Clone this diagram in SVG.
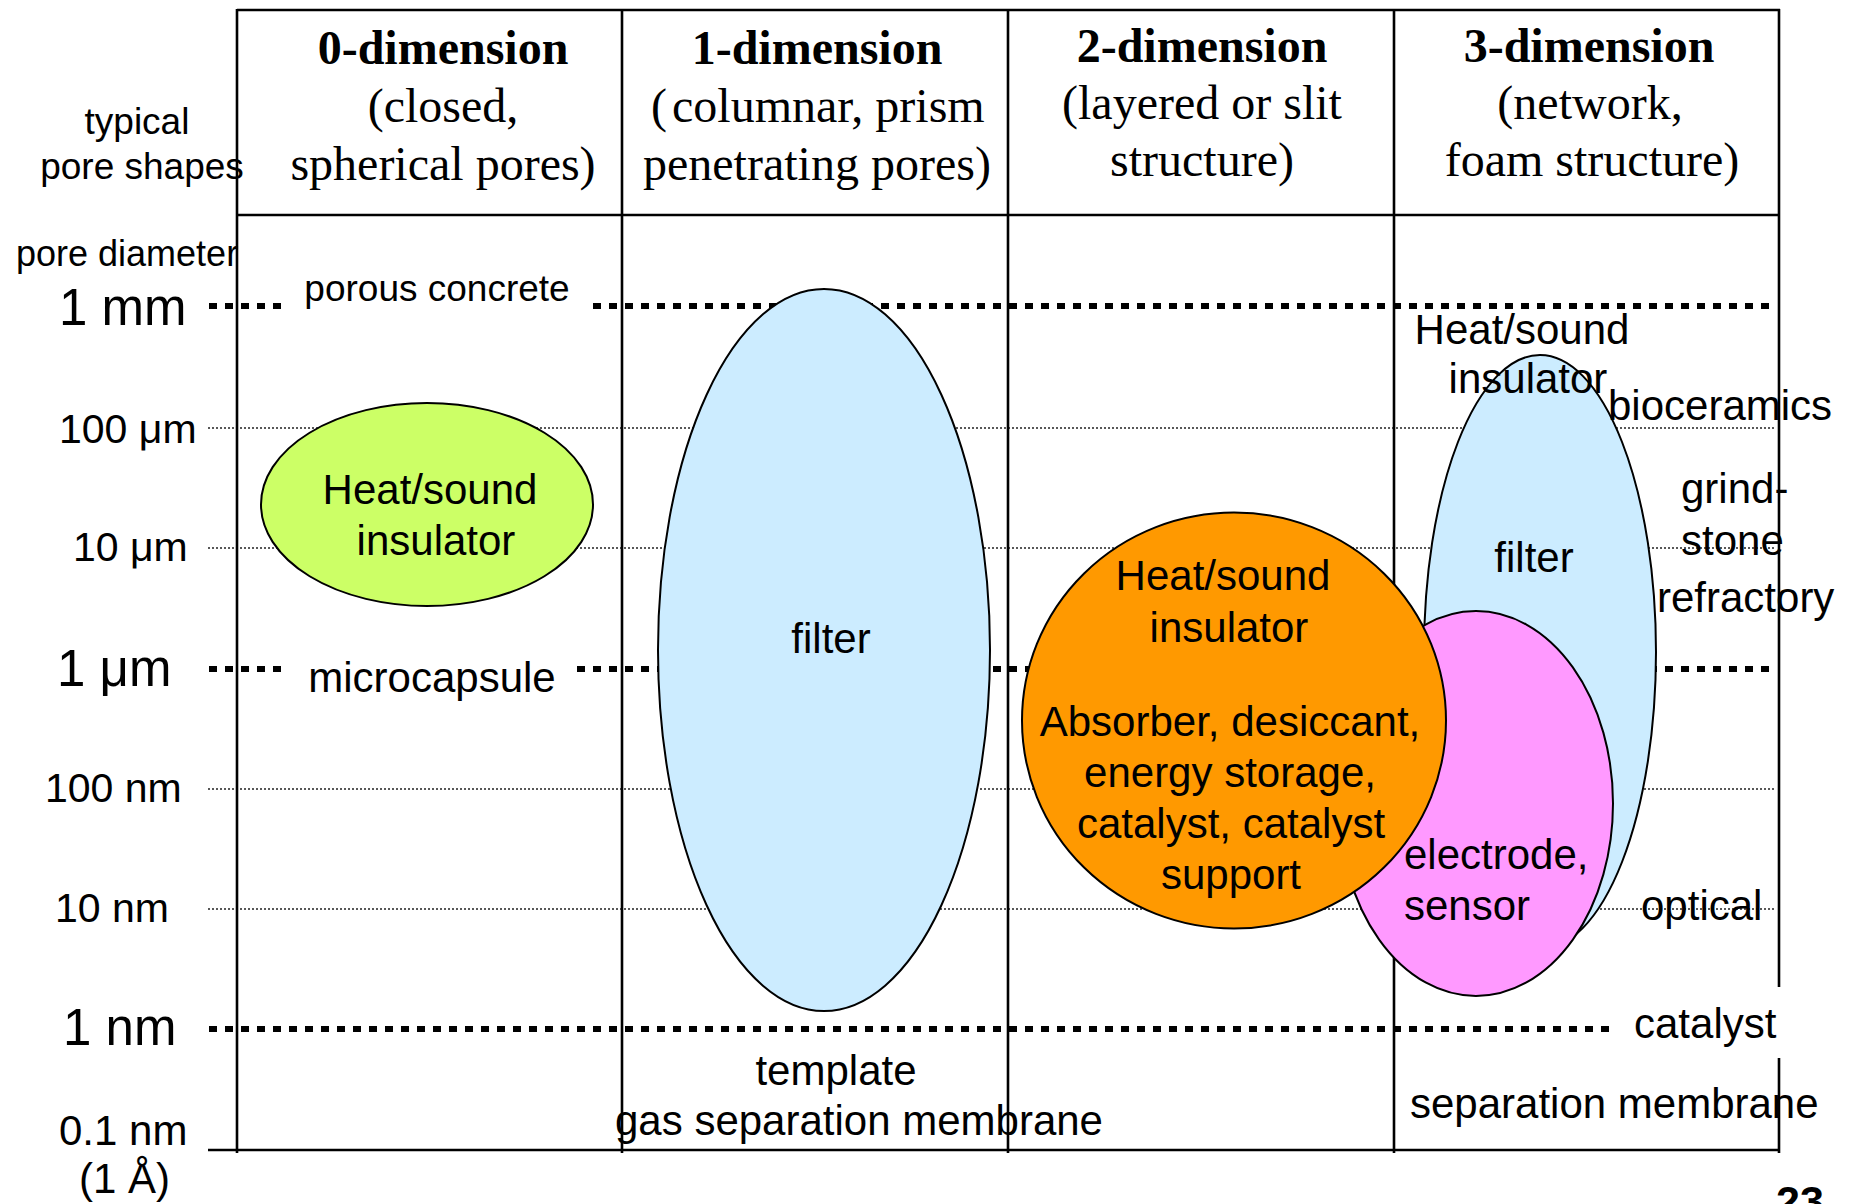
<svg xmlns="http://www.w3.org/2000/svg" width="1852" height="1204" viewBox="0 0 1852 1204">
<style>
.s{font-family:"Liberation Sans",Arial,sans-serif;fill:#000}
.h{font-family:"Liberation Serif","Times New Roman",serif;fill:#000;font-size:48px;text-anchor:middle}
.hs{text-anchor:start}
.hb{font-weight:bold}
.tl{stroke:#000;stroke-width:2.6;fill:none}
.thin{stroke:#222;stroke-width:1.3;stroke-dasharray:2 2;fill:none}
.thick{stroke:#000;stroke-width:6;stroke-dasharray:8 8;fill:none}
.el{stroke:#000;stroke-width:2}
.m{text-anchor:middle}
</style>
<rect width="1852" height="1204" fill="#fff"/>
<g id="connectors">
<g id="gridlines">
<line class="thin" x1="208" y1="428" x2="1775" y2="428"/>
<line class="thin" x1="208" y1="548" x2="1775" y2="548"/>
<line class="thin" x1="208" y1="789" x2="1775" y2="789"/>
<line class="thin" x1="208" y1="909" x2="1775" y2="909"/>
<line class="thick" x1="209" y1="306" x2="281" y2="306"/>
<line class="thick" x1="593" y1="306" x2="1770" y2="306"/>
<line class="thick" x1="209" y1="669" x2="281" y2="669"/>
<line class="thick" x1="577" y1="669" x2="1770" y2="669"/>
<line class="thick" x1="209" y1="1029" x2="1612" y2="1029"/>
</g>
<g id="table">
<line class="tl" x1="237" y1="10" x2="1780" y2="10"/>
<line class="tl" x1="237" y1="215" x2="1780" y2="215"/>
<line class="tl" x1="208" y1="1150" x2="1779" y2="1150"/>
<line class="tl" x1="237" y1="9" x2="237" y2="1153"/>
<line class="tl" x1="622" y1="9" x2="622" y2="1153"/>
<line class="tl" x1="1008" y1="9" x2="1008" y2="1153"/>
<line class="tl" x1="1394" y1="9" x2="1394" y2="1153"/>
<line class="tl" x1="1779" y1="9" x2="1779" y2="1153"/>
</g>
</g>
<g id="axis-labels" class="s">
<text x="137" y="134" font-size="37" class="m">typical</text>
<text x="142" y="179" font-size="37" class="m">pore shapes</text>
<text x="16" y="266" font-size="36">pore diameter</text>
<text x="59" y="325" font-size="51">1 mm</text>
<text x="59" y="443" font-size="41">100 μm</text>
<text x="73" y="561" font-size="41">10 μm</text>
<text x="57" y="686" font-size="51">1 μm</text>
<text x="45" y="802" font-size="41">100 nm</text>
<text x="55" y="922" font-size="41">10 nm</text>
<text x="63" y="1045" font-size="51">1 nm</text>
<text x="59" y="1145" font-size="42">0.1 nm</text>
<text x="79" y="1193" font-size="42">(1 Å)</text>
</g>
<g id="header-0d">
<text class="h hb" x="443" y="64">0-dimension</text>
<text class="h" x="443" y="122">(closed,</text>
<text class="h" x="443" y="180">spherical pores)</text>
</g>
<g id="header-1d">
<text class="h hb" x="817" y="64">1-dimension</text>
<text class="h hs" y="122"><tspan x="651">(</tspan><tspan x="672">columnar, prism</tspan></text>
<text class="h hs" y="180"><tspan x="643">penetrating pores</tspan><tspan x="975">)</tspan></text>
</g>
<g id="header-2d">
<text class="h hb" x="1202" y="62">2-dimension</text>
<text class="h" x="1202" y="119">(layered or slit</text>
<text class="h" x="1202" y="176">structure)</text>
</g>
<g id="header-3d">
<text class="h hb" x="1589" y="62">3-dimension</text>
<text class="h" x="1590" y="119">(network,</text>
<text class="h" x="1592" y="176">foam structure)</text>
</g>
<g id="label-porous-concrete" class="s">
<text x="437" y="301" font-size="37" class="m">porous concrete</text>
</g>
<g id="label-microcapsule" class="s">
<text x="432" y="692" font-size="42" class="m">microcapsule</text>
</g>
<g id="node-0d-insulator">
<ellipse class="el" cx="427" cy="504.5" rx="166" ry="101.5" fill="#CCFF66"/>
<text class="s m" x="430" y="504" font-size="42">Heat/sound</text>
<text class="s m" x="436" y="555" font-size="42">insulator</text>
</g>
<g id="node-1d-filter">
<ellipse class="el" cx="824" cy="650" rx="166" ry="361" fill="#CCECFF"/>
<text class="s m" x="831" y="653" font-size="42">filter</text>
</g>
<g id="node-3d-filter">
<ellipse class="el" cx="1540" cy="652" rx="116" ry="297" fill="#CCECFF"/>
<text class="s m" x="1534" y="572" font-size="42">filter</text>
</g>
<g id="node-3d-electrode">
<ellipse class="el" cx="1476" cy="803.5" rx="137" ry="192.5" fill="#FF99FF"/>
<text class="s" x="1404" y="869" font-size="42">electrode,</text>
<text class="s" x="1404" y="920" font-size="42">sensor</text>
</g>
<g id="node-2d-uses">
<ellipse class="el" cx="1234" cy="720.5" rx="212" ry="208" fill="#FF9900"/>
<text class="s m" x="1223" y="590" font-size="42">Heat/sound</text>
<text class="s m" x="1229" y="642" font-size="42">insulator</text>
<text class="s m" x="1230" y="736" font-size="42">Absorber, desiccant,</text>
<text class="s m" x="1230" y="787" font-size="42">energy storage,</text>
<text class="s m" x="1231" y="838" font-size="42">catalyst, catalyst</text>
<text class="s m" x="1231" y="889" font-size="42">support</text>
</g>
<g id="labels-3d" class="s">
<text x="1522" y="344" font-size="42" class="m">Heat/sound</text>
<text x="1528" y="393" font-size="42" class="m">insulator</text>
<text x="1608" y="420" font-size="42">bioceramics</text>
<text x="1681" y="503" font-size="42">grind-</text>
<text x="1681" y="555" font-size="42">stone</text>
<text x="1657" y="612" font-size="42">refractory</text>
<text x="1641" y="920" font-size="42">optical</text>
</g>
<g id="label-catalyst">
<rect x="1618" y="987" width="172" height="71" fill="#fff"/>
<text class="s" x="1634" y="1038" font-size="42">catalyst</text>
</g>
<g id="label-separation-membrane" class="s">
<text x="1410" y="1118" font-size="42">separation membrane</text>
</g>
<g id="label-template" class="s">
<text x="836" y="1085" font-size="42" class="m">template</text>
<text x="859" y="1135" font-size="42" class="m">gas separation membrane</text>
</g>
<g id="page-number">
<text class="s" x="1776" y="1216" font-size="43" font-weight="bold">23</text>
</g>
</svg>
